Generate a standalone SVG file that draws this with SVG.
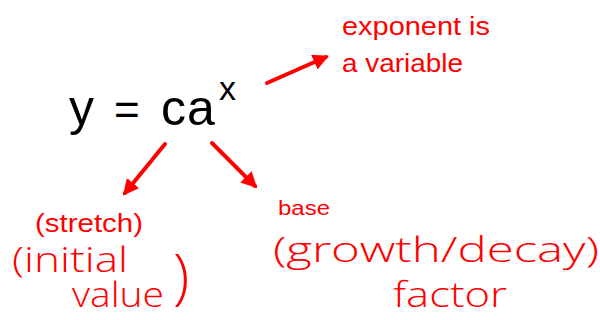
<svg xmlns="http://www.w3.org/2000/svg" width="600" height="320" viewBox="0 0 600 320">
<defs>
<style>
.eq{font-family:"Liberation Sans",Arial,sans-serif;fill:#000;font-size:50px}
.typed{font-family:"Liberation Sans",Arial,sans-serif;fill:#f00;font-size:26px}
.hand{font-family:"Open Sans","DejaVu Sans",sans-serif;font-weight:300;fill:#f00;font-size:34px}
.arrow{stroke:#f00;stroke-width:4;fill:none;stroke-linecap:round;marker-end:url(#ah)}
</style>
<marker id="ah" viewBox="0 0 10 10" refX="8" refY="5" markerWidth="4" markerHeight="4" orient="auto" markerUnits="strokeWidth">
<path d="M0,0 L10,5 L0,10 z" fill="#f00"/>
</marker>
</defs>
<rect width="600" height="320" fill="#fff"/>
<g id="equation">
<text class="eq" y="125"><tspan x="69">y</tspan><tspan x="114" style="font-size:44px">=</tspan><tspan x="161">c</tspan><tspan x="187">a</tspan></text>
<text class="eq" x="219" y="100" style="font-size:34px">x</text>
</g>
<g id="exponent-note">
<text class="typed" x="342" y="35" textLength="148" lengthAdjust="spacingAndGlyphs">exponent is</text>
<text class="typed" x="342" y="72" textLength="121" lengthAdjust="spacingAndGlyphs">a variable</text>
</g>
<g id="c-note">
<text class="typed" x="35" y="232" textLength="108" lengthAdjust="spacingAndGlyphs">(stretch)</text>
<text class="hand" x="12" y="272" textLength="116" lengthAdjust="spacingAndGlyphs">(initial</text>
<text class="hand" x="72" y="307" textLength="92" lengthAdjust="spacingAndGlyphs">value</text>
<text class="hand" x="173" y="298" style="font-size:60px">)</text>
</g>
<g id="a-note">
<text class="typed" x="278" y="215" style="font-size:21px" textLength="52" lengthAdjust="spacingAndGlyphs">base</text>
<text class="hand" x="273" y="262" textLength="326" lengthAdjust="spacingAndGlyphs">(growth/decay)</text>
<text class="hand" x="393" y="307" textLength="114" lengthAdjust="spacingAndGlyphs">factor</text>
</g>
<g id="connectors">
<line class="arrow" x1="267" y1="83" x2="326" y2="57"/>
<line class="arrow" x1="165" y1="144" x2="125" y2="193"/>
<line class="arrow" x1="212" y1="143" x2="255" y2="186"/>
</g>
</svg>
